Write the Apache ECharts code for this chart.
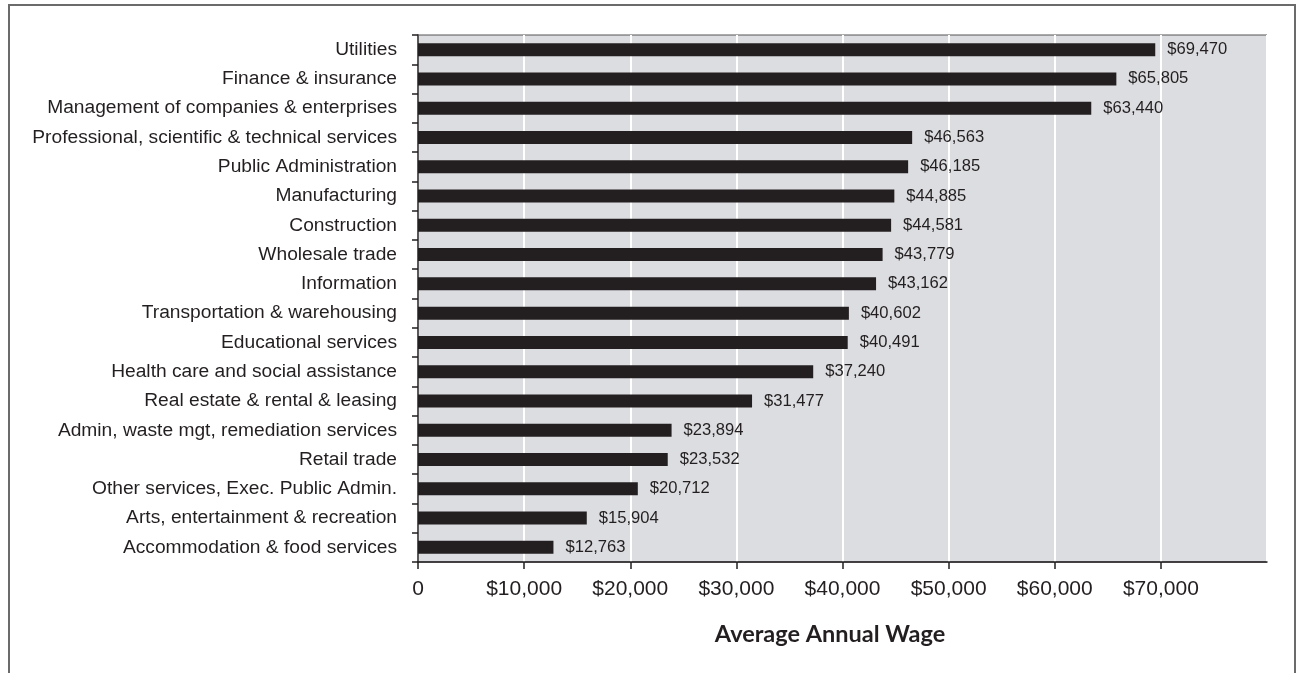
<!DOCTYPE html>
<html>
<head>
<meta charset="utf-8">
<script src="https://cdn.jsdelivr.net/npm/echarts@6/dist/echarts.min.js"></script>
<style>
  html, body { margin: 0; padding: 0; background: #ffffff; }
  #chart { width: 1303px; height: 673px; }
</style>
</head>
<body>
<div id="chart"></div>
<script>
// Industries, listed from highest to lowest average wage
const industries = [
  'Utilities',
  'Finance & insurance',
  'Management of companies & enterprises',
  'Professional, scientific & technical services',
  'Public Administration',
  'Manufacturing',
  'Construction',
  'Wholesale trade',
  'Information',
  'Transportation & warehousing',
  'Educational services',
  'Health care and social assistance',
  'Real estate & rental & leasing',
  'Admin, waste mgt, remediation services',
  'Retail trade',
  'Other services, Exec. Public Admin.',
  'Arts, entertainment & recreation',
  'Accommodation & food services'
];

// Average annual wage per industry, in dollars
const wages = [
  69470, 65805, 63440, 46563, 46185, 44885, 44581, 43779, 43162,
  40602, 40491, 37240, 31477, 23894, 23532, 20712, 15904, 12763
];

// Value axis range and step
const axisMin = 0;
const axisMax = 80000;
const axisStep = 10000;

const axisTitle = 'Average Annual Wage';

const ink = '#231f20';
const fmtDollars = v => '$' + v.toLocaleString('en-US');

const chart = echarts.init(document.getElementById('chart'), null, { renderer: 'canvas' });

chart.setOption({
  animation: false,
  backgroundColor: '#ffffff',
  textStyle: { fontFamily: '"Liberation Sans", Arial, Helvetica, sans-serif', color: ink },
  graphic: [
    {
      // outer frame around the figure (runs past the bottom edge)
      type: 'rect',
      silent: true,
      shape: { x: 9, y: 5, width: 1286, height: 720 },
      style: { fill: 'none', stroke: '#6b6b6b', lineWidth: 2 }
    }
  ],
  grid: {
    left: 418,
    right: 36,
    top: 35,
    bottom: 111,
    show: true,
    backgroundColor: '#dcdde0',
    borderColor: '#555555',
    borderWidth: 1
  },
  xAxis: {
    type: 'value',
    min: axisMin,
    max: axisMax,
    interval: axisStep,
    name: axisTitle,
    nameLocation: 'middle',
    nameGap: 60,
    nameTextStyle: {
      fontFamily: 'Lato, "Open Sans", sans-serif',
      fontWeight: 'bold',
      fontSize: 23.5,
      color: ink,
      padding: [0, 25, 0, 0]
    },
    axisLine: { show: true, lineStyle: { color: ink, width: 1.5 } },
    axisTick: { show: true, inside: false, length: 7, lineStyle: { color: ink, width: 1.5 } },
    axisLabel: {
      show: true,
      margin: 17,
      fontSize: 21,
      color: ink,
      showMaxLabel: false,
      formatter: v => (v === 0 ? '0' : fmtDollars(v))
    },
    splitLine: { show: true, lineStyle: { color: '#ffffff', width: 2 } }
  },
  yAxis: {
    type: 'category',
    data: industries,
    inverse: true,
    axisLine: { show: true, lineStyle: { color: ink, width: 1.5 } },
    axisTick: { show: true, inside: false, length: 6, alignWithLabel: false, lineStyle: { color: ink, width: 1.5 } },
    axisLabel: { margin: 21, fontSize: 19.2, color: ink },
    splitLine: { show: false }
  },
  series: [
    {
      type: 'bar',
      data: wages,
      barWidth: 13,
      itemStyle: { color: ink },
      label: {
        show: true,
        position: 'right',
        distance: 12,
        fontSize: 16.6,
        color: ink,
        formatter: p => fmtDollars(p.value)
      }
    }
  ]
});
</script>
</body>
</html>
